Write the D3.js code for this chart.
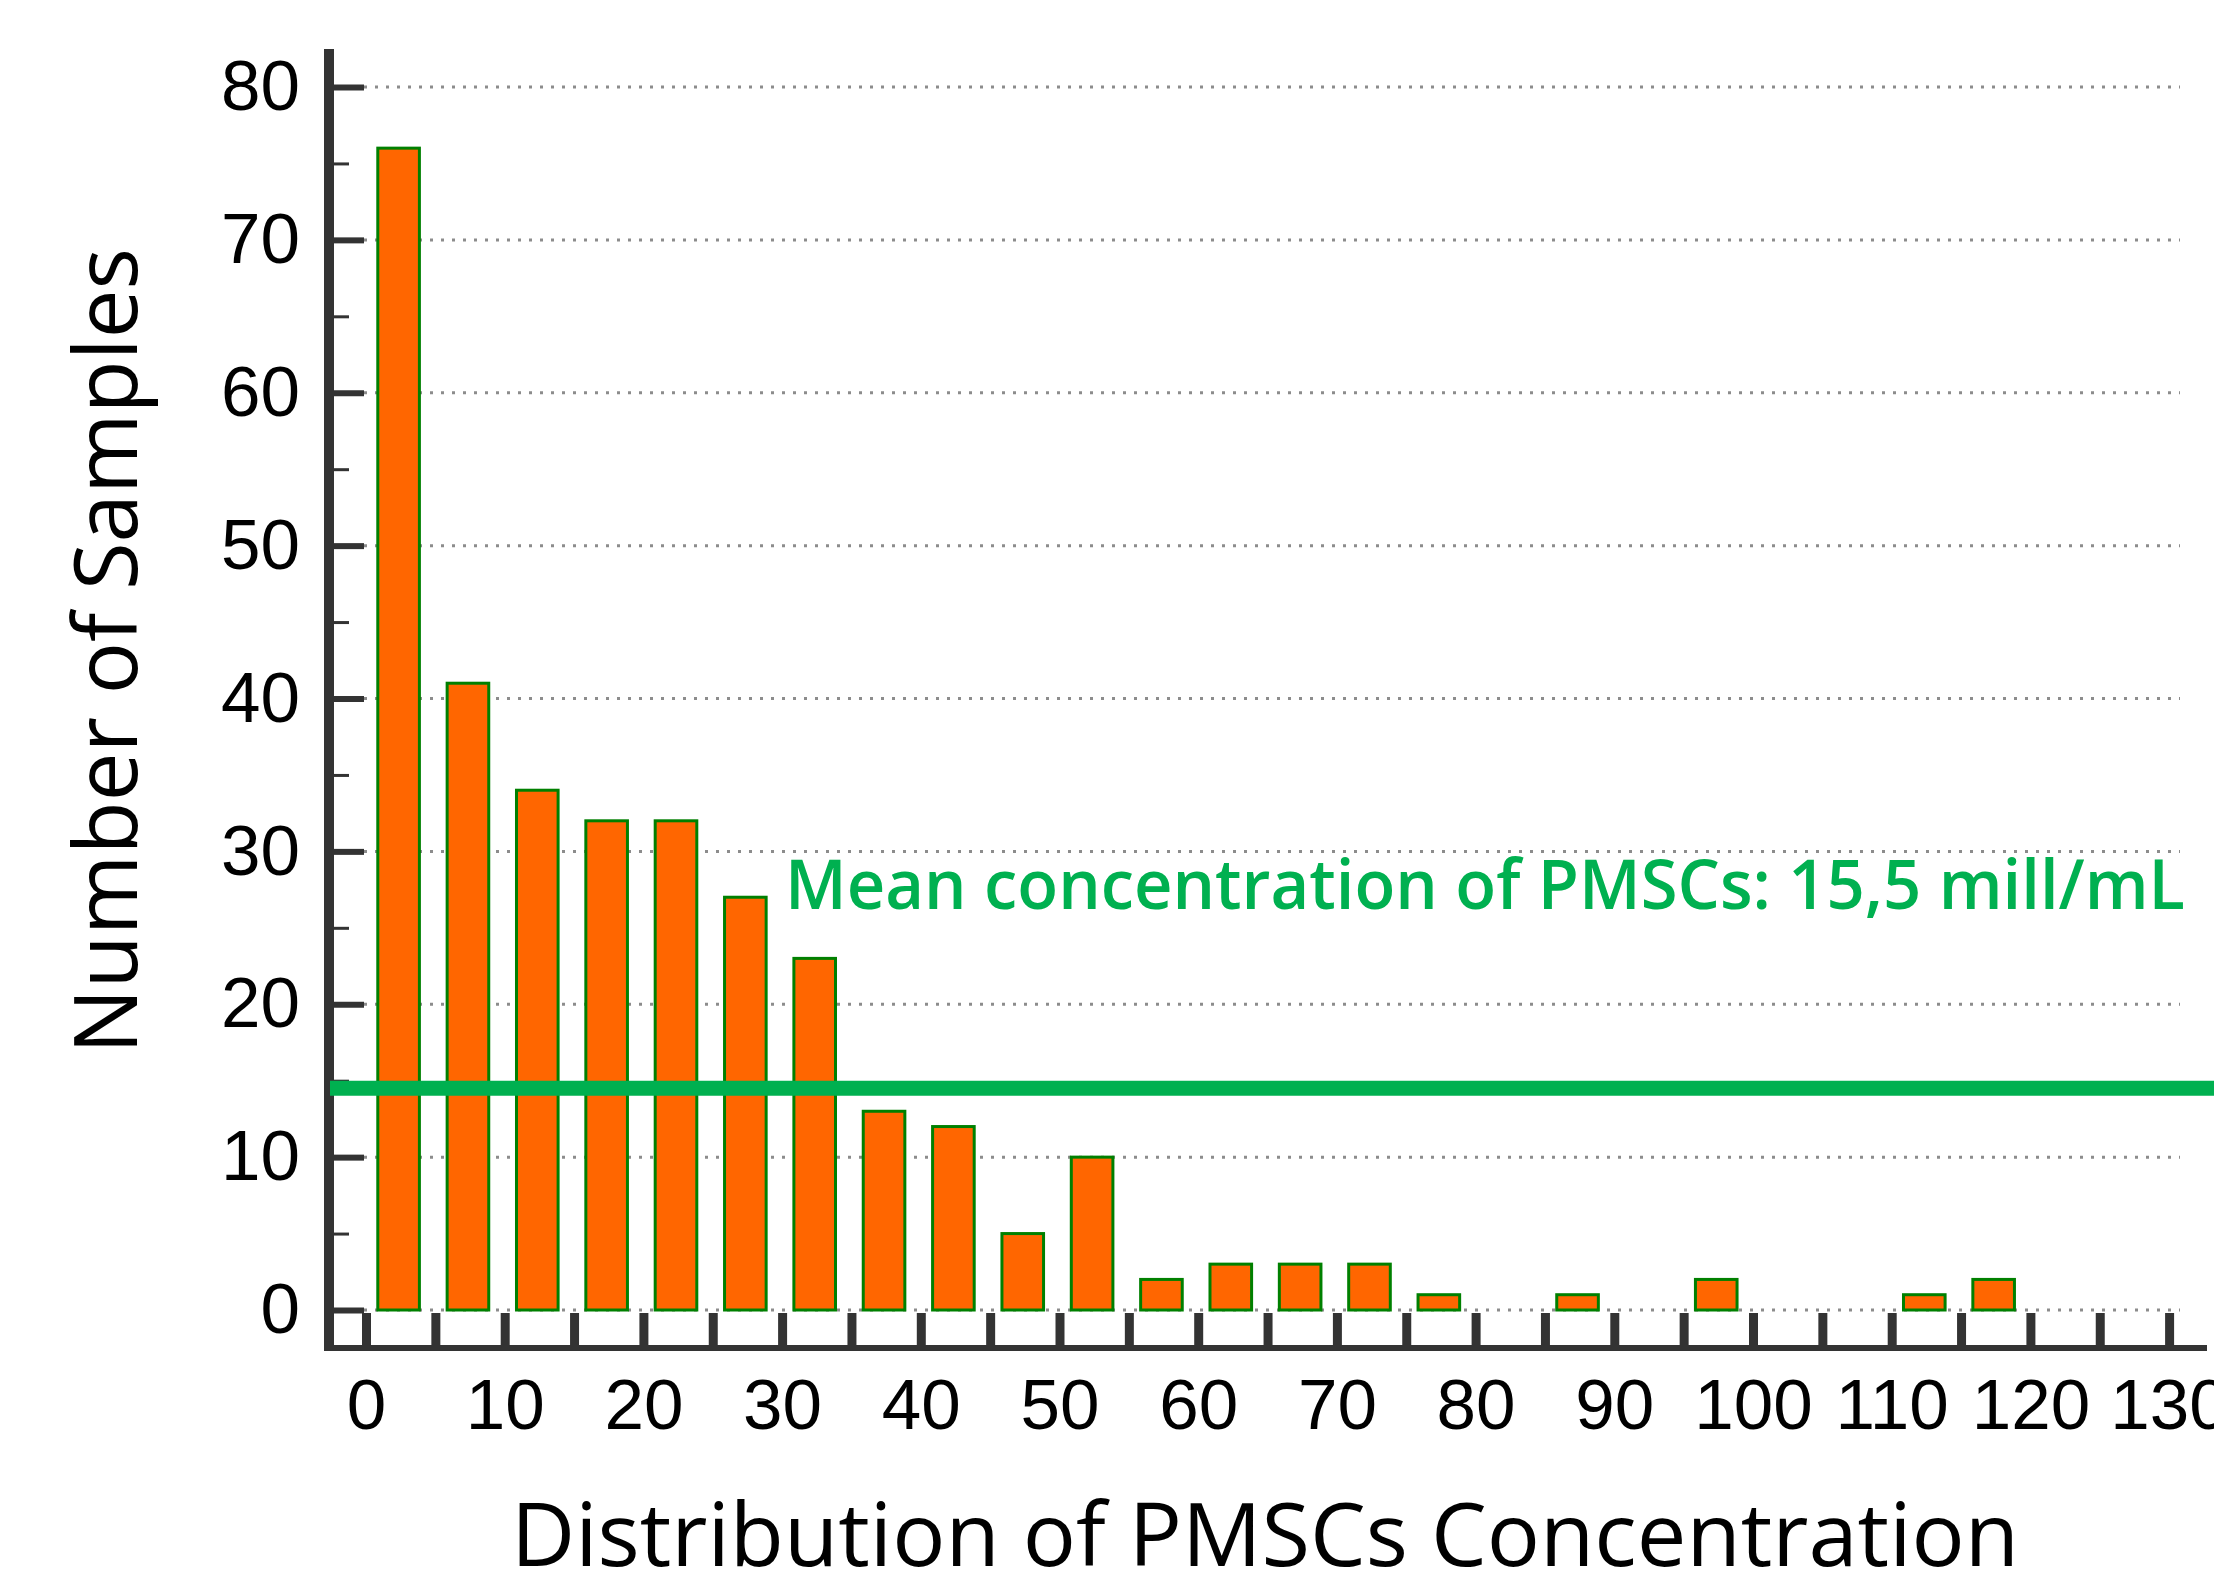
<!DOCTYPE html>
<html>
<head>
<meta charset="utf-8">
<script src="https://cdn.jsdelivr.net/npm/d3@7"></script>
<style>
  html, body { margin: 0; padding: 0; background: #fff; }
  svg { display: block; }
</style>
</head>
<body>
<svg id="chart" width="2214" height="1580"></svg>
<script>
// ---- data ----
const binStarts = [0, 5, 10, 15, 20, 25, 30, 35, 40, 45, 50, 55, 60, 65, 70, 75, 80, 85, 90, 95, 100, 105, 110, 115, 120, 125];
const binWidth = 5;
const counts = [76, 41, 34, 32, 32, 27, 23, 13, 12, 5, 10, 2, 3, 3, 3, 1, 0, 1, 0, 2, 0, 0, 1, 2, 0, 0];
const xTickLabels = [0, 10, 20, 30, 40, 50, 60, 70, 80, 90, 100, 110, 120, 130];
const xMinorTicks = [0, 5, 10, 15, 20, 25, 30, 35, 40, 45, 50, 55, 60, 65, 70, 75, 80, 85, 90, 95, 100, 105, 110, 115, 120, 125, 130];
const yTickLabels = [0, 10, 20, 30, 40, 50, 60, 70, 80];
const yMinorTicks = [5, 15, 25, 35, 45, 55, 65, 75];
const meanLineValue = 14.5;
const meanLabel = "Mean concentration of PMSCs: 15,5 mill/mL";
const xTitle = "Distribution of PMSCs Concentration";
const yTitle = "Number of Samples";

// ---- layout ----
const svg = d3.select("#chart");
const axisColor = "#333333";
const x = d3.scaleLinear().domain([0, 130]).range([366, 366 + 130 * 13.87]);
const y = d3.scaleLinear().domain([0, 80]).range([1310, 87]);
const plotRight = 2180;

// gridlines
svg.append("g").selectAll("line").data(yTickLabels).join("line")
  .attr("x1", 364).attr("x2", plotRight)
  .attr("y1", d => y(d)).attr("y2", d => y(d))
  .attr("stroke", "#8c8c8c").attr("stroke-width", 3)
  .attr("stroke-dasharray", "3,8");

// bars
const barFrac = 0.6;
svg.append("g").selectAll("rect").data(binStarts.map((s, i) => ({ s, c: counts[i] })).filter(d => d.c > 0))
  .join("rect")
  .attr("x", d => x(d.s + binWidth * (1 - barFrac) / 2 - 0.15))
  .attr("width", d => x(d.s + binWidth * barFrac) - x(d.s))
  .attr("y", d => y(d.c))
  .attr("height", d => y(0) - y(d.c))
  .attr("fill", "#FF6600")
  .attr("stroke", "#008000")
  .attr("stroke-width", 3);

// y axis line
svg.append("rect").attr("x", 324).attr("y", 49).attr("width", 10).attr("height", 1302).attr("fill", axisColor);
// x axis line
svg.append("rect").attr("x", 324).attr("y", 1345).attr("width", 2207 - 324).attr("height", 6).attr("fill", axisColor);

// y axis major ticks + labels
const yAxis = d3.axisLeft(y).tickValues(yTickLabels).tickSizeInner(-30).tickSizeOuter(0).tickPadding(34);
const gy = svg.append("g").attr("transform", "translate(334,0)").call(yAxis);
gy.select(".domain").remove();
gy.selectAll(".tick line").attr("stroke", axisColor).attr("stroke-width", 6);
gy.selectAll(".tick text").attr("font-family", "'Liberation Sans', Arial, sans-serif").attr("font-size", 71).attr("fill", "#000");

// y axis minor ticks
const yAxisMinor = d3.axisLeft(y).tickValues(yMinorTicks).tickSizeInner(-15).tickSizeOuter(0).tickFormat("");
const gym = svg.append("g").attr("transform", "translate(334,0)").call(yAxisMinor);
gym.select(".domain").remove();
gym.selectAll(".tick line").attr("stroke", axisColor).attr("stroke-width", 3);

// x axis ticks (every 5, upward)
const xAxisTicks = d3.axisBottom(x).tickValues(xMinorTicks).tickSizeInner(-32).tickSizeOuter(0).tickFormat("");
const gxt = svg.append("g").attr("transform", "translate(0,1345)").call(xAxisTicks);
gxt.select(".domain").remove();
gxt.selectAll(".tick line").attr("stroke", axisColor).attr("stroke-width", 9);

// x axis labels
const xAxisLabels = d3.axisBottom(x).tickValues(xTickLabels).tickSize(0).tickPadding(34);
const gxl = svg.append("g").attr("transform", "translate(0,1345)").call(xAxisLabels);
gxl.select(".domain").remove();
gxl.selectAll(".tick text").attr("font-family", "'Liberation Sans', Arial, sans-serif").attr("font-size", 71).attr("fill", "#000");

// mean line
svg.append("line")
  .attr("x1", 330).attr("x2", 2214)
  .attr("y1", y(meanLineValue)).attr("y2", y(meanLineValue))
  .attr("stroke", "#00B050").attr("stroke-width", 15);

// mean label
svg.append("text")
  .attr("x", 785).attr("y", 909)
  .attr("font-family", "'Open Sans', sans-serif").attr("font-weight", 600).attr("font-size", 68)
  .attr("fill", "#00B050")
  .attr("textLength", 1400).attr("lengthAdjust", "spacingAndGlyphs")
  .text(meanLabel);

// axis titles
svg.append("text")
  .attr("transform", "translate(137,651) rotate(-90)")
  .attr("text-anchor", "middle")
  .attr("font-family", "'Open Sans', sans-serif").attr("font-size", 88).attr("fill", "#000")
  .attr("textLength", 806).attr("lengthAdjust", "spacingAndGlyphs")
  .text(yTitle);

svg.append("text")
  .attr("x", 1265).attr("y", 1566)
  .attr("text-anchor", "middle")
  .attr("font-family", "'Open Sans', sans-serif").attr("font-size", 88).attr("fill", "#000")
  .attr("textLength", 1508).attr("lengthAdjust", "spacingAndGlyphs")
  .text(xTitle);
</script>
</body>
</html>
